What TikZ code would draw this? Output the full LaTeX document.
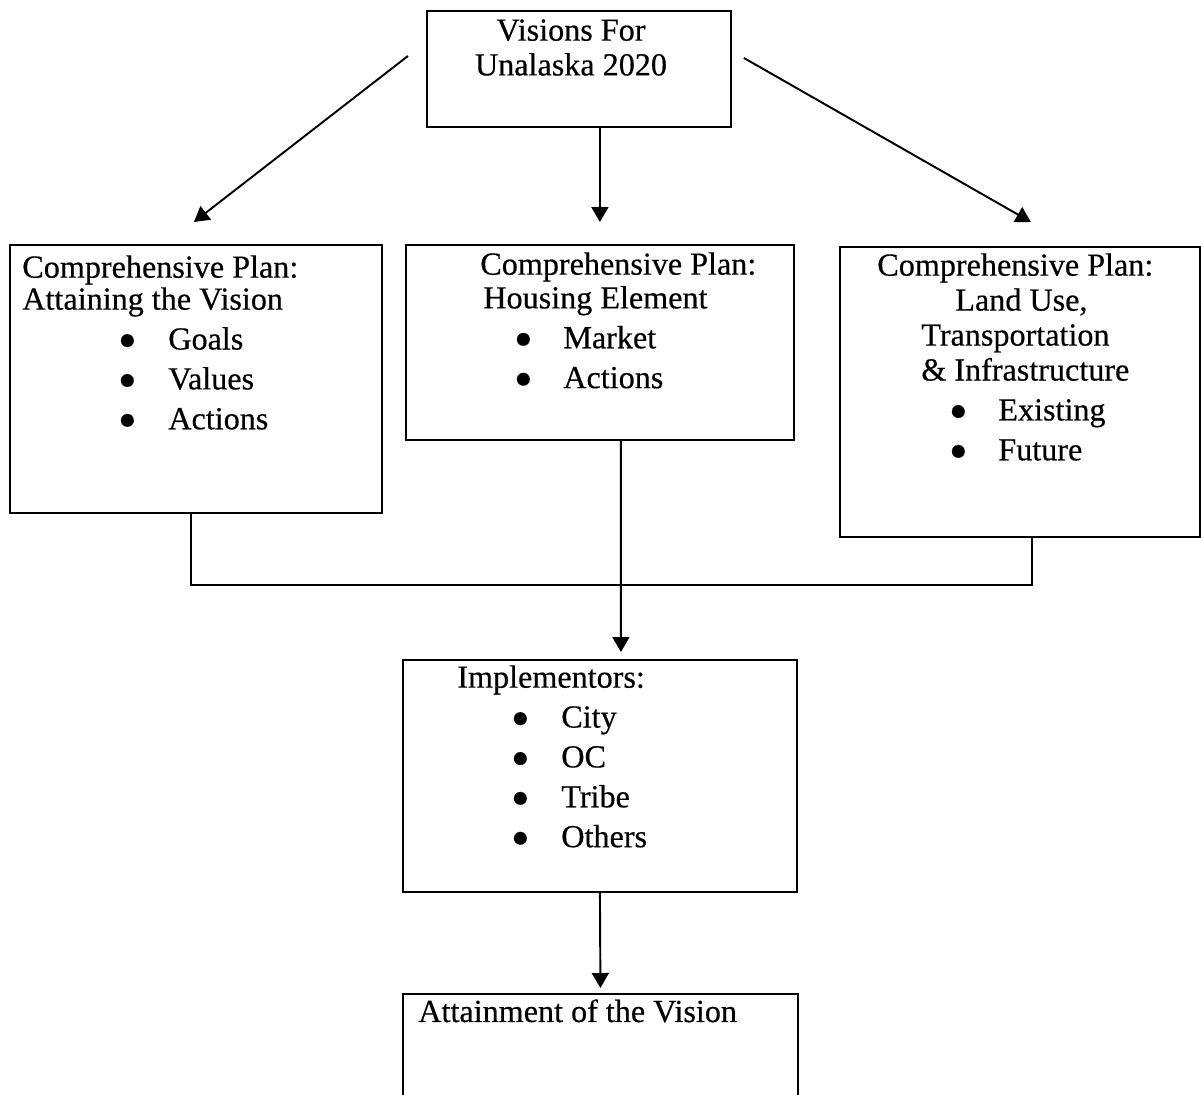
\documentclass[tikz,border=0pt]{standalone}
\usepackage{fontspec}
\setmainfont{Liberation Serif}[FakeBold=0.45]
\usetikzlibrary{arrows.meta}
\newlength\unitpx
\setlength\unitpx{0.02cm}
\newcommand\bitem[3]{\hspace*{#1\unitpx}\makebox[0pt]{\raisebox{0.3pt}{\fontsize{17pt}{0pt}\selectfont\char"25CF}}\hspace*{#2\unitpx}#3}

\begin{document}
\begin{tikzpicture}[
		x=0.02cm, y=-0.02cm,
		box/.style={rectangle, draw, line width=1.1pt, anchor=north west, inner sep=0pt},
		txt/.style={anchor=north west, inner sep=0pt, align=left, font=\fontsize{18.3pt}{18.2pt}\selectfont},
		line/.style={line width=1.1pt},
		arrow/.style={line width=1.1pt, -{Triangle[length=3mm, width=3.4mm]}}
	]
	\useasboundingbox (0,0) rectangle (1201,1095);
	\clip (0,0) rectangle (1201,1095);

	% boxes
	\node at (426,10)  [box, minimum width=6.08cm, minimum height=2.32cm] (vision) {};
	\node at (9,244)   [box, minimum width=7.44cm, minimum height=5.36cm] (attaining) {};
	\node at (405,244) [box, minimum width=7.76cm, minimum height=3.9cm]  (housing) {};
	\node at (839,246) [box, minimum width=7.2cm,  minimum height=5.8cm]  (landuse) {};
	\node at (402,659) [box, minimum width=7.88cm, minimum height=4.64cm] (implement) {};
	\node at (402,993) [box, minimum width=7.9cm,  minimum height=3cm]    (attainment) {};

	% texts
	\node at (571,19) [txt, anchor=north, align=center, font=\fontsize{18.3pt}{19.8pt}\selectfont] (visionT)
		{Visions For\\Unalaska 2020};
	\node at (22,255) [txt] (attainingT)
		{Comprehensive Plan:\\Attaining the Vision\\[4.5pt]
		 \bitem{105}{41}{Goals}\\[4.5pt]
		 \bitem{105}{41}{Values}\\[4.5pt]
		 \bitem{105}{41}{Actions}};
	\node at (480,252) [txt, font=\fontsize{18.3pt}{19.2pt}\selectfont] (housingT)
		{Comprehensive Plan:\\\hspace*{3\unitpx}Housing Element\\[3.5pt]
		 \bitem{43}{40}{Market}\\[3.5pt]
		 \bitem{43}{40}{Actions}};
	\node at (877,253) [txt, font=\fontsize{18.3pt}{19.9pt}\selectfont] (landuseT)
		{Comprehensive Plan:\\\hspace*{78\unitpx}Land Use,\\
		 \hspace*{44\unitpx}Transportation\\\hspace*{44\unitpx}\& Infrastructure\\[2.8pt]
		 \bitem{81}{40}{Existing}\\[2.8pt]
		 \bitem{81}{40}{Future}};
	\node at (457,665) [txt] (implementT)
		{Implementors:\\[4.5pt]
		 \bitem{63}{41}{City}\\[4.5pt]
		 \bitem{63}{41}{OC}\\[4.5pt]
		 \bitem{63}{41}{Tribe}\\[4.5pt]
		 \bitem{63}{41}{Others}};
	\node at (418,999) [txt] (attainmentT) {Attainment of the Vision};

	% connectors
	\draw [arrow] ([shift={(-18,-13)}]vision.west) -- ([shift={(-2,-22)}]attaining.north);
	\draw [arrow] (housing.north |- vision.south) -- ([shift={(0,-22)}]housing.north);
	\draw [arrow] ([shift={(12,-11)}]vision.east) -- ([shift={(11,-24)}]landuse.north);
	\draw [line] ([shift={(-5,0)}]attaining.south) -- ++(0,71) -| ([shift={(12,0)}]landuse.south);
	\draw [arrow] ([shift={(21,0)}]housing.south) -- ([shift={(21,-7)}]implement.north);
	\draw [arrow] (implement.south) -- ([shift={(0,-5)}]attainment.north);
\end{tikzpicture}
\end{document}
